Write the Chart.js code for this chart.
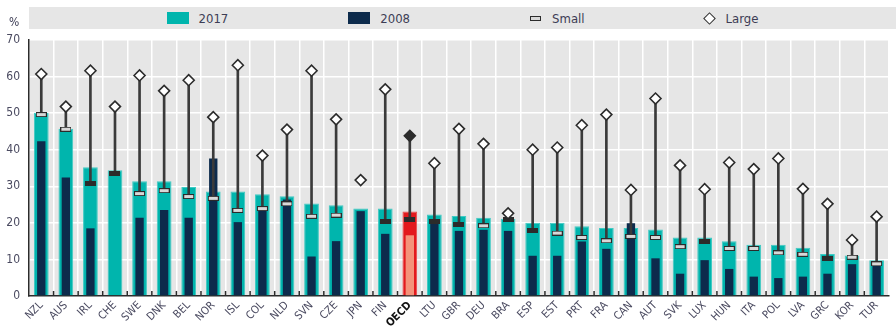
<!DOCTYPE html>
<html>
<head>
<meta charset="utf-8">
<script src="https://cdn.jsdelivr.net/npm/chart.js@4/dist/chart.umd.min.js"></script>
<style>
  html, body { margin: 0; padding: 0; background: #ffffff; }
  #wrap { position: relative; width: 896px; height: 330px; }
  #chart { position: absolute; left: 0; top: 0; }
  .font { font-family: "Liberation Sans Narrow", "Arial Narrow", "DejaVu Sans Condensed", sans-serif; }
  #legend {
    position: absolute; left: 29px; top: 7px; width: 867px; height: 22px;
    background: #e6e6e6; display: flex; justify-content: center; align-items: center;
    gap: 120px; font-size: 13px; color: #3d3d55;
  }
  .item { display: flex; align-items: center; }
  .box { width: 22px; height: 12px; margin-right: 10px; }
  .small { width: 9px; height: 3px; border: 1px solid #2b2b2b; background: #d8d8d8; margin-right: 11px; }
  .diamond { width: 7px; height: 7px; border: 1.5px solid #2b2b2b; background: #fff; transform: rotate(45deg); margin-right: 12px; }
  #unit { position: absolute; left: 9px; top: 15px; font-size: 12px; color: #3d3d55; }
</style>
</head>
<body>
<div id="wrap">
  <canvas id="chart" width="896" height="330"></canvas>
  <div id="unit" class="font">%</div>
  <div id="legend" class="font">
    <div class="item"><div class="box" style="background:#00b5ad"></div>2017</div>
    <div class="item"><div class="box" style="background:#0d2b4c"></div>2008</div>
    <div class="item"><div class="small"></div>Small</div>
    <div class="item"><div class="diamond"></div>Large</div>
  </div>
</div>
<script>
const countries = ["NZL","AUS","IRL","CHE","SWE","DNK","BEL","NOR","ISL","COL","NLD","SVN","CZE","JPN","FIN","OECD","LTU","GBR","DEU","BRA","ESP","EST","PRT","FRA","CAN","AUT","SVK","LUX","HUN","ITA","POL","LVA","GRC","KOR","TUR"];
const share2017 = [50.1,45.7,35.2,34.4,31.4,31.4,29.8,28.6,28.6,27.8,27.3,25.3,24.8,23.9,23.9,23.1,22.3,21.9,21.4,21.1,20.0,20.0,19.1,18.6,18.6,18.2,16.0,16.0,15.0,14.0,14.0,13.2,11.5,11.1,9.8];
const share2008 = [42.3,32.4,18.5,null,21.4,23.5,21.4,37.6,20.2,23.8,26.4,10.8,15.0,23.2,17.0,16.6,20.5,17.8,18.1,17.8,11.0,11.0,14.9,12.9,19.9,10.3,6.1,9.8,7.4,5.3,4.9,5.3,6.1,8.7,8.9];
const smallFirms = [49.6,45.6,30.7,33.6,28.0,28.8,27.2,26.7,23.4,23.9,25.2,21.8,22.1,null,20.3,20.9,20.3,19.5,19.2,20.9,17.9,17.2,16.0,15.1,16.3,16.0,13.5,15.0,13.0,13.0,11.8,11.4,10.3,10.6,8.8];
const largeFirms = [60.7,51.8,61.6,51.8,60.3,56.1,59.0,48.9,63.1,38.4,45.5,61.6,48.3,31.7,56.5,43.8,36.3,45.7,41.6,22.6,40.0,40.6,46.7,49.6,29.0,54.0,35.7,29.2,36.5,34.7,37.6,29.3,25.2,15.3,21.7];
// small-firm markers drawn solid dark
const smallSolid = ["IRL","CHE","FIN","OECD","LTU","GBR","BRA","ESP","LUX","GRC"];
const yTicks = [0,10,20,30,40,50,60,70];

const FONT = '"Liberation Sans Narrow", "Arial Narrow", "DejaVu Sans Condensed", sans-serif';
const TEAL = '#00b5ad', NAVY = '#0d2b4c', RED = '#e3191d', SALMON = '#f4937a', INK = '#2b2b2b';

function markerCanvas(fill) {
  const c = document.createElement('canvas');
  c.width = 11; c.height = 5;
  const g = c.getContext('2d');
  g.fillStyle = INK; g.fillRect(0, 0, 11, 5);
  if (fill) { g.fillStyle = fill; g.fillRect(1, 1, 9, 3); }
  return c;
}
const smallLight = markerCanvas('#d8d8d8');
const smallDark = markerCanvas(null);

const isOecd = countries.map(c => c === 'OECD');

const plotBackground = {
  id: 'plotBackground',
  beforeDraw(chart) {
    const a = chart.chartArea, ctx = chart.ctx;
    ctx.save(); ctx.fillStyle = '#e6e6e6';
    ctx.fillRect(a.left, a.top, a.right - a.left, a.bottom - a.top);
    ctx.restore();
  },
  beforeDatasetsDraw(chart) {
    // short category separators rising from the baseline
    const x = chart.scales.x, a = chart.chartArea, ctx = chart.ctx;
    ctx.save(); ctx.strokeStyle = INK; ctx.lineWidth = 1.5;
    for (let i = 1; i < countries.length; i++) {
      const px = (x.getPixelForValue(i - 1) + x.getPixelForValue(i)) / 2;
      ctx.beginPath(); ctx.moveTo(px, a.bottom); ctx.lineTo(px, a.bottom - 5); ctx.stroke();
    }
    ctx.restore();
  }
};

new Chart(document.getElementById('chart'), {
  data: {
    labels: countries,
    datasets: [
      {
        type: 'scatter', label: 'Large', order: 0,
        data: largeFirms, showLine: false,
        pointStyle: 'rectRot', pointRadius: 5.5, pointHoverRadius: 5.5, borderWidth: 1.6,
        borderColor: INK,
        backgroundColor: isOecd.map(o => o ? INK : '#ffffff')
      },
      {
        type: 'scatter', label: 'Small', order: 1,
        data: smallFirms, showLine: false,
        pointStyle: countries.map(c => smallSolid.includes(c) ? smallDark : smallLight),
        pointRadius: 5
      },
      {
        type: 'bar', label: 'range', order: 2, grouped: false,
        data: smallFirms.map((s, i) => s == null ? null : [s, largeFirms[i]]),
        backgroundColor: '#3a3a3a', barThickness: 2
      },
      {
        type: 'bar', label: '2008', order: 3, grouped: false,
        data: share2008,
        backgroundColor: isOecd.map(o => o ? SALMON : NAVY),
        barPercentage: 0.34, categoryPercentage: 1
      },
      {
        type: 'bar', label: '2017', order: 4, grouped: false,
        data: share2017,
        backgroundColor: isOecd.map(o => o ? RED : TEAL),
        borderColor: isOecd.map(o => o ? '#ea4a4a' : '#3fcac3'),
        borderWidth: 1, borderSkipped: 'bottom',
        barPercentage: 0.6, categoryPercentage: 1
      }
    ]
  },
  options: {
    responsive: false,
    animation: false,
    layout: { padding: { top: 40, right: 0, left: 0, bottom: 0 } },
    plugins: { legend: { display: false }, tooltip: { enabled: false } },
    scales: {
      x: {
        type: 'category', offset: true,
        grid: { offset: true, color: '#ffffff', lineWidth: 1.5, drawTicks: false },
        border: { display: true, color: INK, width: 1.5 },
        ticks: {
          autoSkip: false, minRotation: 45, maxRotation: 45, padding: 3,
          color: ctx => countries[ctx.index] === 'OECD' ? '#111111' : '#4a4a60',
          font: ctx => ({ family: FONT, size: 11, weight: countries[ctx.index] === 'OECD' ? 'bold' : 'normal' })
        },
        afterFit: s => { s.height = 34; }
      },
      y: {
        min: 0, max: 70,
        afterBuildTicks: s => { s.ticks = yTicks.map(v => ({ value: v })); },
        grid: { color: '#ffffff', lineWidth: 1.5, drawTicks: false },
        border: { display: true, color: INK, width: 1.5 },
        ticks: { padding: 9, color: '#4a4a60', font: { family: FONT, size: 12 } },
        afterFit: s => { s.width = 29; }
      }
    }
  },
  plugins: [plotBackground]
});
</script>
</body>
</html>
